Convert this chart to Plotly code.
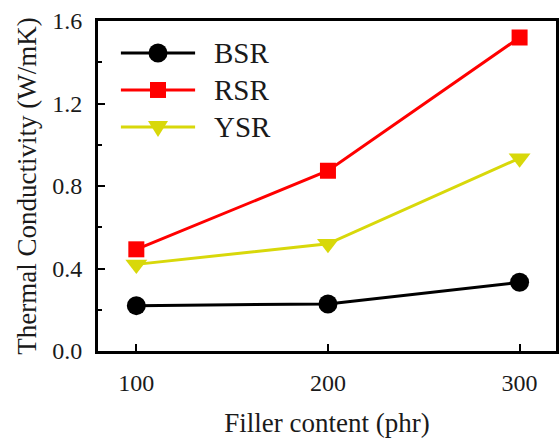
import plotly.graph_objects as go

filler = [100, 200, 300]
bsr = [0.22, 0.228, 0.333]
rsr = [0.493, 0.874, 1.52]
ysr = [0.42, 0.52, 0.935]

series_names = ["BSR", "RSR", "YSR"]
series_colors = ["#000000", "#FF0000", "#D8D80A"]
series_symbols = ["circle", "square", "triangle-down"]
series_values = [bsr, rsr, ysr]
marker_sizes = [19, 16, 19]

FONT = "Liberation Serif, Times New Roman, serif"

fig = go.Figure()
for name, col, sym, vals, ms in zip(series_names, series_colors, series_symbols,
                                     series_values, marker_sizes):
    fig.add_trace(go.Scatter(x=filler, y=vals, name=name, mode="lines+markers",
                             line=dict(color=col, width=3),
                             marker=dict(symbol=sym, size=ms, color=col),
                             showlegend=False))

# Manual legend (layout shapes + annotations) to match long legend samples
legend_rows_y = [0.903, 0.791, 0.679]
shapes = []
annotations = []
lx0, lx1, lxm, tx = 0.050, 0.212, 0.131, 0.249
for name, col, sym, ry in zip(series_names, series_colors, series_symbols, legend_rows_y):
    shapes.append(dict(type="line", xref="paper", yref="paper", x0=lx0, x1=lx1, y0=ry, y1=ry,
                       line=dict(color=col, width=3)))
    if sym == "circle":
        shapes.append(dict(type="circle", xref="paper", yref="paper",
                           xsizemode="pixel", ysizemode="pixel", xanchor=lxm, yanchor=ry,
                           x0=-9.5, x1=9.5, y0=-9.5, y1=9.5,
                           fillcolor=col, line=dict(color=col, width=0)))
    elif sym == "square":
        shapes.append(dict(type="rect", xref="paper", yref="paper",
                           xsizemode="pixel", ysizemode="pixel", xanchor=lxm, yanchor=ry,
                           x0=-8, x1=8, y0=-8, y1=8,
                           fillcolor=col, line=dict(color=col, width=0)))
    else:
        shapes.append(dict(type="path", xref="paper", yref="paper",
                           xsizemode="pixel", ysizemode="pixel", xanchor=lxm, yanchor=ry,
                           path="M -10,6 L 10,6 L 0,-10 Z",
                           fillcolor=col, line=dict(color=col, width=0)))
    annotations.append(dict(text=name, xref="paper", yref="paper", x=tx, y=ry,
                            xanchor="left", yanchor="middle", showarrow=False,
                            font=dict(size=29, family=FONT, color="#1a1a1a")))

fig.update_layout(
    width=560, height=438,
    margin=dict(l=98, r=4, t=21, b=87),
    paper_bgcolor="white", plot_bgcolor="white",
    font=dict(family=FONT, color="#1a1a1a", size=23),
    showlegend=False,
    shapes=shapes,
    annotations=annotations,
)
fig.update_xaxes(
    range=[80, 319], tickvals=filler, ticktext=["100", "200", "300"],
    tickfont=dict(family=FONT, size=24, color="#1a1a1a"),
    showline=True, linecolor="black", linewidth=3, mirror=True,
    ticks="inside", ticklen=7, tickwidth=2, tickcolor="black",
    showgrid=False, zeroline=False, ticklabelstandoff=8,
    title=dict(text="Filler content (phr)", font=dict(size=27, family=FONT), standoff=22),
    automargin=False,
)
fig.update_yaxes(
    range=[0, 1.6], tickvals=[0, 0.4, 0.8, 1.2, 1.6],
    ticktext=["0.0", "0.4", "0.8", "1.2", "1.6"],
    tickfont=dict(family=FONT, size=24, color="#1a1a1a"),
    showline=True, linecolor="black", linewidth=3, mirror=True,
    ticks="inside", ticklen=7, tickwidth=2, tickcolor="black",
    minor=dict(ticks="inside", ticklen=4, tickwidth=2, tickcolor="black", dtick=0.2, showgrid=False),
    showgrid=False, zeroline=False, ticklabelstandoff=8,
    title=dict(text="Thermal Conductivity (W/mK)", font=dict(size=27, family=FONT), standoff=8),
    automargin=False,
)

fig.write_html("out.html")
